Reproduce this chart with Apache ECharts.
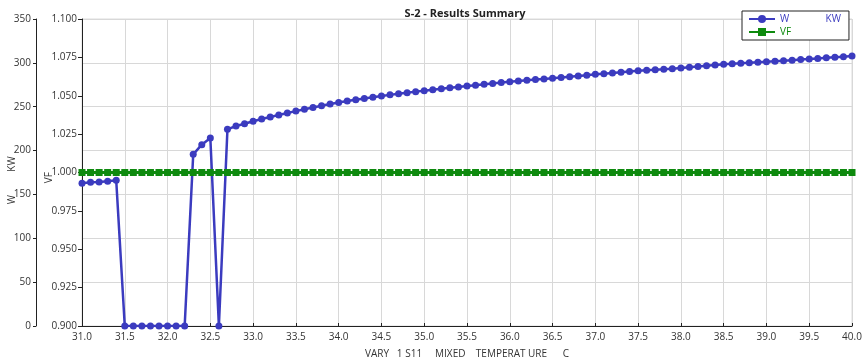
<!DOCTYPE html>
<html>
<head>
<meta charset="utf-8">
<script src="https://cdn.jsdelivr.net/npm/echarts@6/dist/echarts.min.js"></script>
<style>html,body{margin:0;padding:0;background:#fff;}#c{width:865px;height:363px;}</style>
</head>
<body>
<div id="c"></div>
<script>
// x values: 31.0 .. 40.0 step 0.1
var temps = [];
for (var i = 0; i <= 90; i++) temps.push(+(31 + i * 0.1).toFixed(1));

var wValues = [
  162.7, 163.8, 164.2, 165.0, 166.1,
  0, 0, 0, 0, 0, 0, 0, 0,
  195.7, 206.7, 214.3, 0,
  224.2, 228.0, 230.6,
  233.5, 236.0, 238.3, 240.5, 242.8, 245.0, 247.0, 249.0, 251.0, 253.0,
  254.8, 256.4, 257.9, 259.4, 260.8, 262.2, 263.5, 264.8, 266.0, 267.2,
  268.3, 269.4, 270.5, 271.6, 272.6, 273.6, 274.6, 275.6, 276.6, 277.5,
  278.5, 279.3, 280.1, 280.9, 281.6, 282.4, 283.3, 284.2, 285.1, 286.0,
  286.9, 287.7, 288.5, 289.3, 290.1, 290.9, 291.5, 292.1, 292.7, 293.4,
  294.1, 294.9, 295.8, 296.6, 297.5, 298.3, 298.9, 299.5, 300.1, 300.7,
  301.3, 301.9, 302.5, 303.1, 303.7, 304.3, 305.0, 305.7, 306.4, 307.1,
  307.8
];
var vfValues = [];
for (var j = 0; j < temps.length; j++) vfValues.push(1.0);

var title = 'S-2 - Results Summary';
var xName = 'VARY   1 S11     MIXED    TEMPERAT URE      C';

var blue = '#3b3bbf';
var green = '#0e8a0e';
var font = 'Open Sans';

var chart = echarts.init(document.getElementById('c'), null, {renderer: 'canvas'});
chart.setOption({
  animation: false,
  backgroundColor: '#fff',
  textStyle: {fontFamily: font},
  title: {
    text: title, left: 460, top: 3, textAlign: 'center',
    textStyle: {fontSize: 11, fontWeight: 'bold', color: '#222', fontFamily: font}
  },
  legend: {
    left: 742, top: 11, width: 107, height: 33,
    orient: 'vertical', padding: [3, 8, 3, 6], itemGap: 3,
    itemWidth: 26, itemHeight: 10,
    borderColor: '#222', borderWidth: 1, backgroundColor: '#fff',
    textStyle: {fontSize: 10, fontFamily: font},
    formatter: function (n) { return n === 'W' ? 'W              KW' : n; },
    data: [
      {name: 'W', textStyle: {color: blue}},
      {name: 'VF', textStyle: {color: green}}
    ]
  },
  grid: {left: 82, right: 13, top: 19, bottom: 37, containLabel: false, outerBoundsMode: 'none',
         show: true, borderColor: '#dcdcdc', borderWidth: 1},
  xAxis: {
    type: 'value', min: 31, max: 40, interval: 0.5,
    name: xName, nameLocation: 'middle', nameGap: 23, nameMoveOverlap: false,
    nameTextStyle: {fontSize: 10, color: '#333'},
    axisLine: {lineStyle: {color: '#222'}},
    axisTick: {inside: true, length: 3, lineStyle: {color: '#222'}},
    axisLabel: {fontSize: 10, color: '#333', margin: 6, formatter: function (v) { return v.toFixed(1); }},
    splitLine: {show: true, lineStyle: {color: '#d8d8d8'}}
  },
  yAxis: [
    {
      type: 'value', position: 'left', offset: 46, min: 0, max: 350, interval: 50,
      name: 'W         KW      ', nameLocation: 'middle', nameGap: 19, nameRotate: 90, nameMoveOverlap: false,
      nameTextStyle: {fontSize: 10, color: '#333'},
      axisLine: {show: true, lineStyle: {color: '#222'}},
      axisTick: {show: true, length: 3, lineStyle: {color: '#222'}},
      axisLabel: {fontSize: 10, color: '#333', margin: 5},
      splitLine: {show: true, lineStyle: {color: '#d8d8d8'}}
    },
    {
      type: 'value', position: 'left', offset: 0, min: 0.9, max: 1.1, interval: 0.025,
      name: 'VF    ', nameLocation: 'middle', nameGap: 28, nameRotate: 90, nameMoveOverlap: false,
      nameTextStyle: {fontSize: 10, color: '#333'},
      axisLine: {show: true, lineStyle: {color: '#222'}},
      axisTick: {show: true, length: 4, lineStyle: {color: '#222'}},
      axisLabel: {fontSize: 10, color: '#333', margin: 5, formatter: function (v) { return v.toFixed(3); }},
      splitLine: {show: false}
    }
  ],
  series: [
    {
      name: 'VF', type: 'line', yAxisIndex: 1,
      data: temps.map(function (t, k) { return [t, vfValues[k]]; }),
      symbol: 'rect', symbolSize: 7,
      lineStyle: {color: green, width: 3},
      itemStyle: {color: green}
    },
    {
      name: 'W', type: 'line', yAxisIndex: 0,
      data: temps.map(function (t, k) { return [t, wValues[k]]; }),
      symbol: 'circle', symbolSize: 7,
      lineStyle: {color: blue, width: 2.5},
      itemStyle: {color: blue}
    }
  ]
});
</script>
</body>
</html>
